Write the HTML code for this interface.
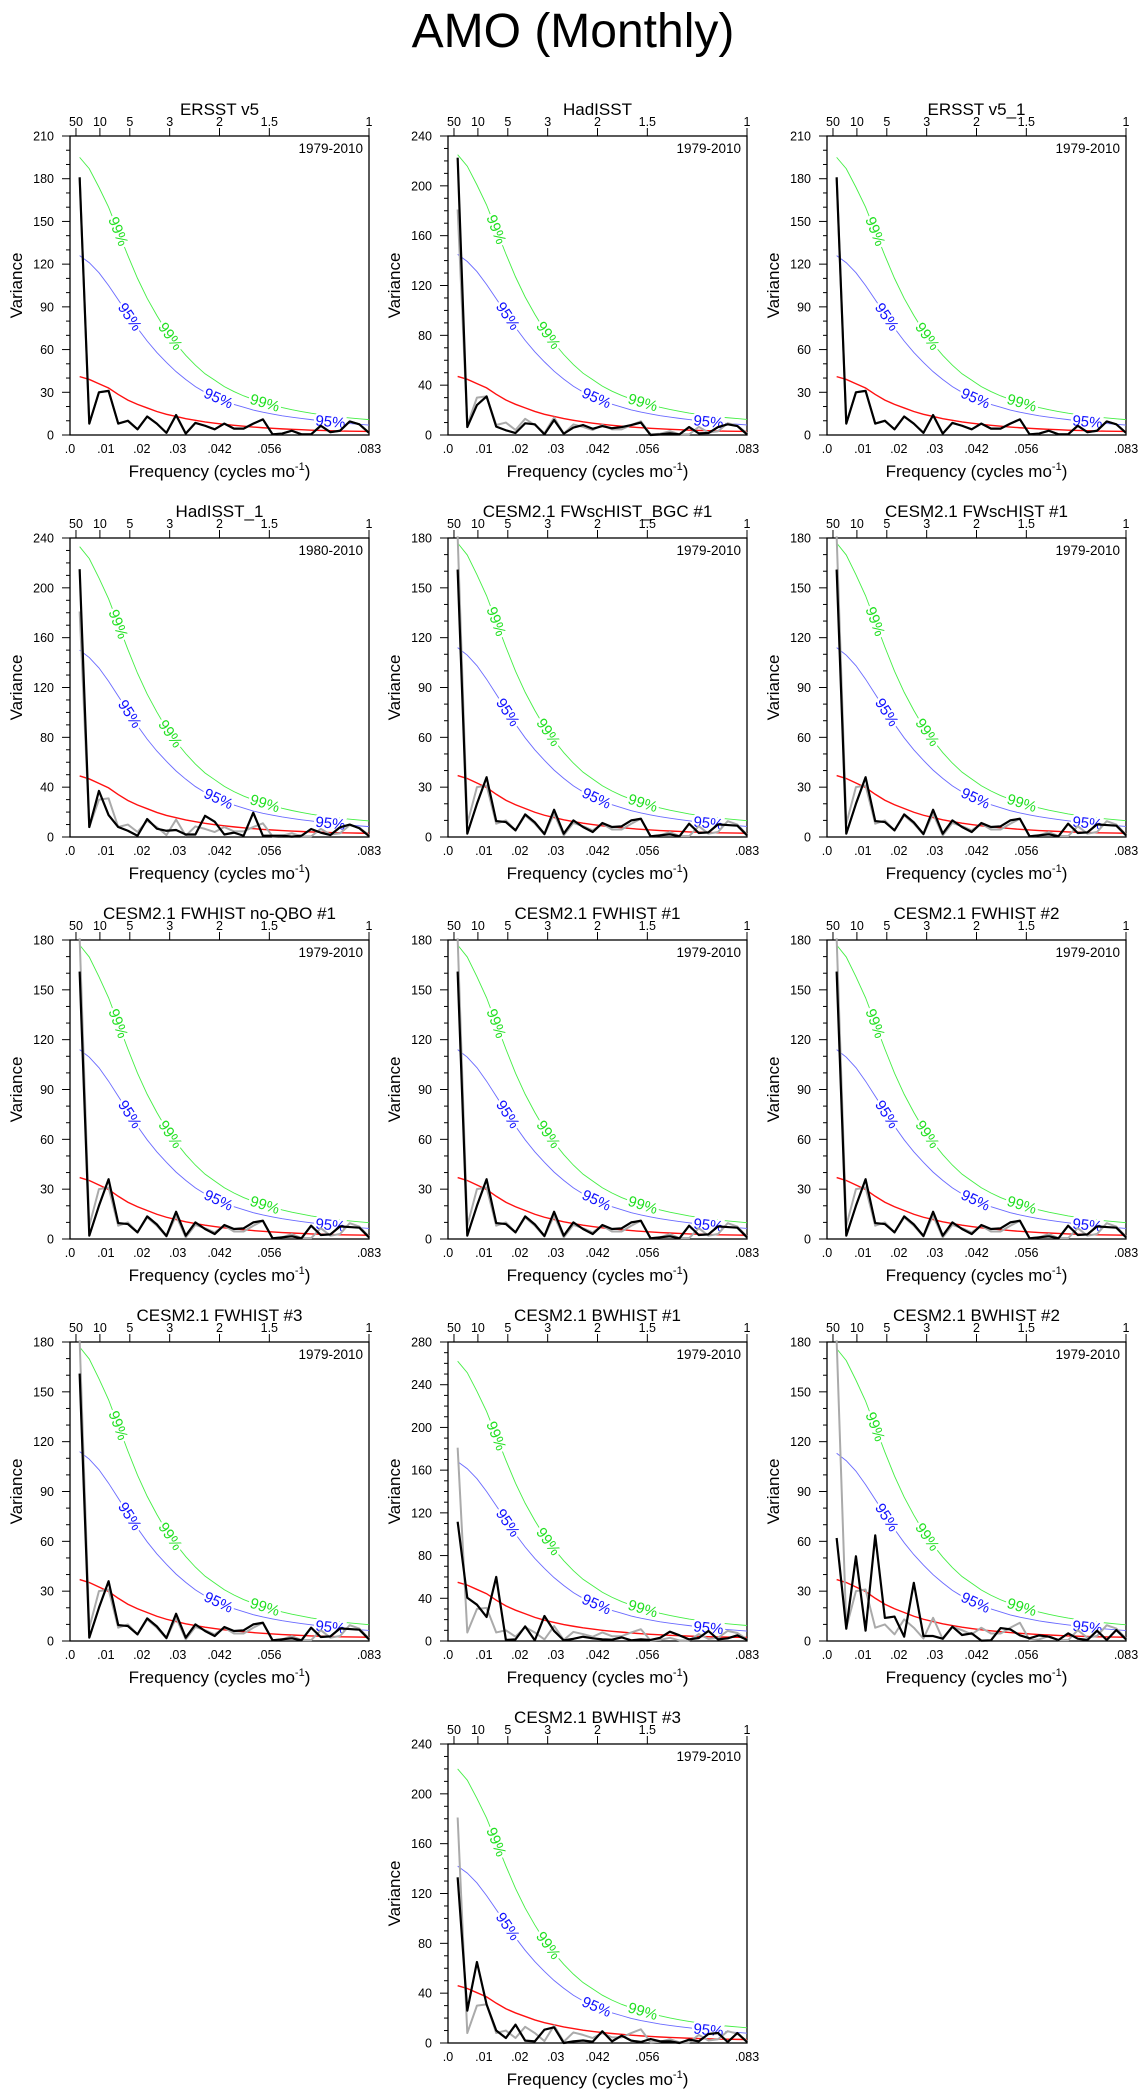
<!DOCTYPE html>
<html><head><meta charset="utf-8"><title>AMO (Monthly)</title>
<style>
html,body{margin:0;padding:0;background:#fff;}
svg{display:block;font-family:"Liberation Sans",sans-serif;}
</style></head>
<body>
<svg id="fig" width="1146" height="2100" viewBox="0 0 1146 2100" xmlns="http://www.w3.org/2000/svg">
<rect x="0" y="0" width="1146" height="2100" fill="#fff"/>
<text x="573" y="47" font-size="48" text-anchor="middle">AMO (Monthly)</text>
</svg>
<script>
// ---- data ----
const panelTitles = ["ERSST v5","HadISST","ERSST v5_1","HadISST_1","CESM2.1 FWscHIST_BGC #1","CESM2.1 FWscHIST #1","CESM2.1 FWHIST no-QBO #1","CESM2.1 FWHIST #1","CESM2.1 FWHIST #2","CESM2.1 FWHIST #3","CESM2.1 BWHIST #1","CESM2.1 BWHIST #2","CESM2.1 BWHIST #3"];
const panelPeriods = ["1979-2010","1979-2010","1979-2010","1980-2010","1979-2010","1979-2010","1979-2010","1979-2010","1979-2010","1979-2010","1979-2010","1979-2010","1979-2010"];
const yMaxes = [210,240,210,240,180,180,180,180,180,180,280,180,240];
const ySteps = [30,40,30,40,30,30,30,30,30,30,40,30,40];
const redStarts = [41,47,41,49,37,37,37,37,37,37,55,37,46];
const ci95Starts = [126,145,126,150,114,114,114,114,114,114,168,113,142];
const ci99Starts = [195,225,195,233,177,177,177,177,177,177,262,176,220];

const monthsInRecord = 372;
const ersstV5 = [181,8,30,31,8,10,4,13,8,1.5,14,1,8.5,6.5,4,8,4.5,4.5,8,11,0.5,1,3,0.5,0.5,6.5,2,3,9.5,7.5,1.5];
const hadisst = [222.6,6.4,24,31,6.7,3.8,1.6,9.4,8.6,0.5,12,1,6,8,5,7.2,5.4,6.4,8,10,0,0.5,1.3,0.5,6.4,1.3,1.6,6.4,8.6,7.2,0.5];
const ersstV5b = [181,8,30,31,8,10,4,13,8,1.5,14,1,8.5,6.5,4,8,4.5,4.5,8,11,0.5,1,3,0.5,0.5,6.5,2,3,9.5,7.5,1.5];
const hadisst1 = [215,8,37,17.6,8,5,1,14.4,6.7,5,5.6,2,2,17,12.3,2,3.5,1,19.5,1,1,1,0.3,1,6.4,3.5,1.6,7.8,10,7,0.8];
const cesmFwscBgc = [161,2,20,36,9.6,9,4,13.6,8.8,1.8,16.4,2,10,6,3,8.4,6,6.4,10,11,0.4,1,1.6,0.4,8,2.4,2.8,7.6,7.2,6.8,1];
const cesmFwsc = [161,2,20,36,9.6,9,4,13.6,8.8,1.8,16.4,2,10,6,3,8.4,6,6.4,10,11,0.4,1,1.6,0.4,8,2.4,2.8,7.6,7.2,6.8,1];
const cesmFwNoQbo = [161,2,20,36,9.6,9,4,13.6,8.8,1.8,16.4,2,10,6,3,8.4,6,6.4,10,11,0.4,1,1.6,0.4,8,2.4,2.8,7.6,7.2,6.8,1];
const cesmFw1 = [161,2,20,36,9.6,9,4,13.6,8.8,1.8,16.4,2,10,6,3,8.4,6,6.4,10,11,0.4,1,1.6,0.4,8,2.4,2.8,7.6,7.2,6.8,1];
const cesmFw2 = [161,2,20,36,9.6,9,4,13.6,8.8,1.8,16.4,2,10,6,3,8.4,6,6.4,10,11,0.4,1,1.6,0.4,8,2.4,2.8,7.6,7.2,6.8,1];
const cesmFw3 = [161,2,20,36,9.6,9,4,13.6,8.8,1.8,16.4,2,10,6,3,8.4,6,6.4,10,11,0.4,1,1.6,0.4,8,2.4,2.8,7.6,7.2,6.8,1];
const cesmBw1 = [111.7,40.5,34,22.5,60,1,1.5,13.7,0.6,23.4,9.4,0.6,2,4,2.5,1.5,1.2,3.4,0.6,1.5,1,3,8.7,5.3,1.5,2.8,9.4,1.5,2.5,5.3,1];
const cesmBw2 = [62,7.4,51,6.2,63.6,13.9,14.7,2.6,35,3,3,1.4,8.6,3.6,4.6,0.2,0.4,7.8,7,3.4,1.6,3.4,2.6,0.6,4.6,1.4,0.6,6.2,0.6,6.6,1];
const cesmBw3 = [133,26,65,31,10,4,14.7,1.9,1.3,10.7,12.6,0,1.3,2,1,9.4,1.3,5.9,1.9,0.8,3.2,1.3,1.3,0,2.7,1.3,7.2,8,0.8,8,0.8];
const panelSeries = [ersstV5,hadisst,ersstV5b,hadisst1,cesmFwscBgc,cesmFwsc,cesmFwNoQbo,cesmFw1,cesmFw2,cesmFw3,cesmBw1,cesmBw2,cesmBw3];
const referenceSeries = ersstV5;

// red-noise and confidence curve shapes
const redShape = [41,39,36,33,28.5,24.5,21.5,19,16.5,14.5,13,11.5,10.3,9.2,8.3,7.5,6.8,6.2,5.6,5.1,4.7,4.3,4.0,3.7,3.4,3.2,3.0,2.8,2.7,2.6,2.5];
const ci95Shape = [126,121,114,105,95,85,75,66,58,51,44.5,39,34,30,27,24,21.5,19.5,17.5,16,14.7,13.5,12.5,11.6,10.8,10,9.3,8.6,8,7.5,7];
const ci99Shape = [195,187,174,160,143,126,110,96,84,73,64,56,49,43,38.5,34,30.5,27.5,25,23,21,19.3,17.8,16.5,15.3,14.3,13.4,12.6,12,11.4,10.8];

const freqTicks = [0,0.01,0.02,0.03,1/24,1/18,1/12];
const freqTickLabels = [".0",".01",".02",".03",".042",".056",".083"];
const periodTicks = [50,10,5,3,2,1.5,1];
const periodTickLabels = ["50","10","5","3","2","1.5","1"];
const label99At = [5.0,10.4,20.2];
const label95At = [6.2,15.4,27];

// ---- layout ----
const NS = "http://www.w3.org/2000/svg";
const svg = document.getElementById('fig');
const colLefts = [70,448,827];
const rowTops = [136,538,940,1342,1744];
const PW = 299, PH = 299, FMAX = 1/12;

function mk(tag, parent){ const n = document.createElementNS(NS, tag); parent.appendChild(n); return n; }

function drawPanel(i, L, T){
  const g = mk('g', svg);
  
  
  const yMax = yMaxes[i], step = ySteps[i];
  const xs = f => L + f / FMAX * PW;
  const ys = v => T + PH - v / yMax * PH;
  const fk = k => k / monthsInRecord; // k is 1-based index

  // frame
  const fr = mk('rect', g);
  fr.setAttribute('x', L); fr.setAttribute('y', T); fr.setAttribute('width', PW); fr.setAttribute('height', PH);
  fr.setAttribute('fill', 'none'); fr.setAttribute('stroke', '#000'); fr.setAttribute('stroke-width', '1.3');
  
  

  // y ticks
  for (let v = 0; v <= yMax + 0.001; v += step/3 > 10 ? 10 : 10) {
    const major = Math.abs(v/step - Math.round(v/step)) < 1e-6;
    const t = mk('line', g);
    t.setAttribute('x1', L - (major ? 8 : 4)); t.setAttribute('x2', L);
    t.setAttribute('y1', ys(v)); t.setAttribute('y2', ys(v));
    t.setAttribute('stroke', '#000'); t.setAttribute('stroke-width', '1');
    
    
    if (major) {
      const tl = mk('text', g);
      tl.setAttribute('x', L - 16); tl.setAttribute('y', ys(v) + 4.5);
      tl.setAttribute('font-size', '12.5'); tl.setAttribute('text-anchor', 'end');
      tl.textContent = String(Math.round(v));
      
      
    }
  }
  // bottom tick labels
  freqTicks.forEach((f, j) => {
    const tl = mk('text', g);
    tl.setAttribute('x', xs(f)); tl.setAttribute('y', T + PH + 18);
    tl.setAttribute('font-size', '12.5'); tl.setAttribute('text-anchor', 'middle');
    tl.textContent = freqTickLabels[j];
    
    
  });
  // top period ticks
  periodTicks.forEach((p, j) => {
    const f = 1 / (12 * p);
    const t = mk('line', g);
    t.setAttribute('x1', xs(f)); t.setAttribute('x2', xs(f));
    t.setAttribute('y1', T - 8); t.setAttribute('y2', T);
    t.setAttribute('stroke', '#000'); t.setAttribute('stroke-width', '1');
    
    
    const tl = mk('text', g);
    tl.setAttribute('x', xs(f)); tl.setAttribute('y', T - 10);
    tl.setAttribute('font-size', '12.5'); tl.setAttribute('text-anchor', 'middle');
    tl.textContent = periodTickLabels[j];
    
    
  });

  // titles
  const ti = mk('text', g);
  ti.setAttribute('x', L + PW/2); ti.setAttribute('y', T - 21);
  ti.setAttribute('font-size', '17'); ti.setAttribute('text-anchor', 'middle');
  ti.textContent = panelTitles[i];
  
  

  const pr = mk('text', g);
  pr.setAttribute('x', L + PW - 6); pr.setAttribute('y', T + 17);
  pr.setAttribute('font-size', '13.5'); pr.setAttribute('text-anchor', 'end');
  pr.textContent = panelPeriods[i];
  
  

  const yl = mk('text', g);
  yl.setAttribute('x', 0); yl.setAttribute('y', 0);
  yl.setAttribute('transform', 'translate(' + (L - 48) + ',' + (T + PH/2) + ') rotate(-90)');
  yl.setAttribute('font-size', '17'); yl.setAttribute('text-anchor', 'middle');
  yl.textContent = 'Variance';
  
  

  const xl = mk('text', g);
  xl.setAttribute('x', L + PW/2); xl.setAttribute('y', T + PH + 42);
  xl.setAttribute('font-size', '17'); xl.setAttribute('text-anchor', 'middle');
  xl.innerHTML = 'Frequency (cycles mo<tspan font-size="11" dy="-7">-1</tspan><tspan dy="7">)</tspan>';
  
  

  // curves
  const red = redShape.map(v => v * redStarts[i] / redShape[0]);
  const c95 = ci95Shape.map(v => v * ci95Starts[i] / ci95Shape[0]);
  const c99 = ci99Shape.map(v => v * ci99Starts[i] / ci99Shape[0]);
  const pts = arr => arr.map((v, j) => xs(fk(j+1)).toFixed(2) + ',' + ys(v).toFixed(2)).join(' ');

  const l99 = mk('polyline', g);
  l99.setAttribute('points', pts(c99)); l99.setAttribute('fill', 'none');
  l99.setAttribute('stroke', '#44ee44'); l99.setAttribute('stroke-width', '0.9');
  
  

  const l95 = mk('polyline', g);
  l95.setAttribute('points', pts(c95)); l95.setAttribute('fill', 'none');
  l95.setAttribute('stroke', '#6a6aff'); l95.setAttribute('stroke-width', '0.9');
  
  

  const lr = mk('polyline', g);
  lr.setAttribute('points', pts(red)); lr.setAttribute('fill', 'none');
  lr.setAttribute('stroke', '#ff1010'); lr.setAttribute('stroke-width', '1.4');
  
  

  const lg = mk('polyline', g);
  lg.setAttribute('points', pts(referenceSeries)); lg.setAttribute('fill', 'none');
  lg.setAttribute('stroke', '#aaaaaa'); lg.setAttribute('stroke-width', '2');
  lg.setAttribute('stroke-linejoin', 'round');
  
  

  const lb = mk('polyline', g);
  lb.setAttribute('points', pts(panelSeries[i])); lb.setAttribute('fill', 'none');
  lb.setAttribute('stroke', '#000'); lb.setAttribute('stroke-width', '2.2');
  lb.setAttribute('stroke-linejoin', 'round');
  
  

  // curve labels
  function at(arr, k){
    const j = Math.max(1, Math.min(30.999, k));
    const a = Math.floor(j), b = a + 1, t = j - a;
    const v = arr[a-1] * (1-t) + arr[b-1] * t;
    return [xs(fk(j)), ys(v)];
  }
  function curveLabel(arr, ks, txt, color, name){
    ks.forEach(k => {
      const p = at(arr, k), p0 = at(arr, k - 0.6), p1 = at(arr, k + 0.6);
      const ang = Math.atan2(p1[1] - p0[1], p1[0] - p0[0]) * 180 / Math.PI;
      const t = mk('text', g);
      t.setAttribute('x', 0); t.setAttribute('y', 0);
      t.setAttribute('transform', 'translate(' + p[0].toFixed(2) + ',' + p[1].toFixed(2) + ') rotate(' + ang.toFixed(1) + ')');
      t.setAttribute('font-size', '15'); t.setAttribute('text-anchor', 'middle');
      t.setAttribute('dy', '5'); t.setAttribute('fill', color);
      t.setAttribute('stroke', '#fff'); t.setAttribute('stroke-width', '5');
      t.setAttribute('paint-order', 'stroke');
      t.textContent = txt;
      
      
    });
  }
  curveLabel(c99, label99At, '99%', '#22e022', 'ci99-label');
  curveLabel(c95, label95At, '95%', '#1010ff', 'ci95-label');
  // redraw spectra above labels
  g.appendChild(lg); g.appendChild(lb);
}

for (let i = 0; i < panelTitles.length; i++) {
  let L, T;
  if (i < 12) { L = colLefts[i % 3]; T = rowTops[Math.floor(i / 3)]; }
  else { L = colLefts[1]; T = rowTops[4]; }
  drawPanel(i, L, T);
}
</script>
</body></html>
